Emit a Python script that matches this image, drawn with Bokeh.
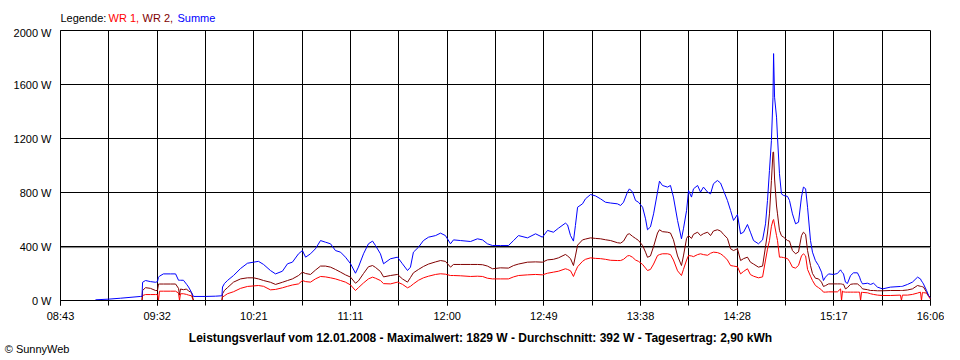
from bokeh.plotting import figure
from bokeh.layouts import column
from bokeh.models import Range1d, FixedTicker, Span
from bokeh.core.properties import value
from bokeh.embed import file_html
from bokeh.resources import INLINE

# ---------------- data (time in minutes since midnight, power in W) ----------------
zeit_min = [
    540.8, 547.4, 553.6, 563.7, 564.5, 564.8, 566.3, 568.8, 571.4, 572.4,
    572.9, 573.4, 575.4, 579.0, 581.6, 583.1, 583.6, 584.1, 585.6, 587.2,
    588.2, 589.7, 590.7, 596.8, 601.9, 605.2, 605.5, 606.5, 608.0, 611.1,
    614.7, 618.2, 621.3, 623.8, 626.4, 629.9, 632.5, 636.0, 638.6, 641.1,
    644.2, 646.2, 647.8, 650.3, 652.8, 655.4, 657.9, 660.5, 663.0, 665.6,
    668.1, 670.7, 673.2, 674.7, 677.3, 679.8, 681.9, 683.4, 685.9, 687.5,
    691.0, 694.6, 697.1, 699.7, 701.2, 702.7, 705.3, 707.8, 710.4, 714.0,
    716.5, 719.0, 721.6, 723.1, 726.7, 731.8, 735.3, 737.9, 740.4, 743.0,
    747.0, 751.1, 753.7, 756.2, 760.8, 764.9, 768.4, 771.0, 774.0, 776.6,
    780.1, 781.2, 782.7, 784.2, 785.2, 786.3, 788.8, 790.3, 792.9, 795.4,
    798.0, 800.5, 803.1, 806.6, 808.2, 809.7, 811.7, 812.7, 814.3, 815.8,
    817.3, 819.4, 820.9, 821.9, 823.4, 825.0, 827.0, 828.0, 829.5, 832.1,
    833.6, 835.1, 837.2, 839.2, 840.2, 841.8, 842.8, 844.3, 845.3, 847.4,
    848.9, 850.4, 852.5, 854.0, 855.5, 857.5, 859.1, 860.6, 862.6, 864.2,
    865.7, 867.7, 869.3, 870.8, 872.8, 874.3, 875.9, 878.4, 880.5, 882.0,
    883.0, 884.0, 885.0, 885.8, 886.1, 886.6, 887.6, 888.1, 889.1, 890.1,
    891.2, 893.2, 894.2, 895.7, 897.3, 898.8, 900.3, 901.3, 902.4, 903.4,
    904.9, 905.9, 907.4, 909.0, 910.5, 911.5, 912.5, 914.1, 916.6, 918.6,
    920.2, 920.7, 921.2, 921.7, 922.7, 923.7, 925.3, 926.8, 928.8, 929.9,
    930.4, 930.9, 931.4, 933.9, 935.5, 937.0, 939.0, 941.6, 945.6, 950.7,
    951.2, 951.7, 954.3, 956.8, 959.4, 960.9, 961.4, 961.9, 962.4, 964.0,
    965.0, 966.0,
]

summe_w = [
    5, 10, 17, 30, 30, 135, 148, 140, 135, 140,
    172, 180, 197, 197, 197, 150, 150, 150, 150, 120,
    100, 60, 30, 30, 32, 35, 100, 126, 148, 185,
    237, 276, 284, 290, 267, 222, 197, 217, 272, 284,
    346, 370, 321, 346, 383, 444, 432, 420, 370, 358,
    321, 272, 202, 247, 346, 420, 440, 407, 346, 272,
    309, 321, 272, 222, 247, 358, 395, 444, 469, 481,
    499, 481, 420, 449, 444, 437, 457, 449, 420, 407,
    407, 407, 444, 481, 464, 494, 469, 519, 506, 536,
    573, 560, 481, 440, 556, 691, 716, 753, 785, 775,
    753, 728, 722, 716, 704, 728, 803, 827, 803, 741,
    728, 691, 605, 524, 545, 642, 803, 884, 852, 840,
    852, 766, 593, 457, 531, 667, 815, 766, 827, 852,
    803, 840, 803, 790, 865, 889, 870, 815, 741, 667,
    593, 637, 494, 506, 563, 506, 444, 420, 449, 568,
    741, 963, 1185, 1506, 1829, 1506, 1358, 1210, 939, 790,
    778, 771, 741, 642, 568, 580, 766, 840, 828, 691,
    444, 358, 296, 259, 210, 148, 173, 197, 193, 200,
    227, 215, 205, 197, 136, 126, 185, 205, 205, 173,
    150, 135, 123, 128, 119, 128, 99, 86, 99, 104,
    104, 105, 119, 136, 173, 160, 145, 135, 123, 74,
    37, 20,
]

wr2_w = [
    0, 0, 0, 0, 0, 74, 95, 90, 74, 74,
    122, 122, 122, 122, 122, 90, 40, 85, 80, 85,
    70, 60, 0, 0, 0, 0, 50, 75, 95, 136,
    160, 168, 168, 160, 148, 135, 119, 135, 148, 160,
    185, 210, 200, 193, 225, 255, 255, 247, 230, 210,
    190, 173, 128, 145, 200, 250, 259, 245, 215, 175,
    185, 193, 160, 136, 170, 205, 230, 252, 270, 286,
    296, 290, 247, 267, 267, 267, 267, 265, 255, 235,
    242, 240, 259, 270, 284, 286, 284, 301, 305, 316,
    341, 330, 310, 259, 330, 410, 449, 455, 464, 460,
    457, 450, 444, 428, 425, 440, 490, 494, 475, 460,
    445, 407, 358, 320, 330, 400, 500, 524, 510, 506,
    500, 450, 330, 259, 330, 460, 481, 460, 490, 506,
    481, 495, 506, 481, 515, 524, 515, 490, 460, 383,
    370, 383, 296, 310, 321, 284, 270, 247, 255, 400,
    500, 642, 889, 1099, 1099, 900, 700, 642, 519, 480,
    469, 444, 440, 370, 346, 360, 480, 506, 490, 370,
    259, 200, 165, 160, 136, 104, 110, 123, 123, 123,
    123, 122, 120, 120, 86, 95, 120, 123, 123, 110,
    105, 95, 86, 80, 74, 74, 72, 72, 74, 74,
    74, 74, 78, 86, 111, 105, 104, 102, 100, 62,
    37, 20,
]

wr1_w = [
    0, 0, 0, 0, 0, 37, 44, 44, 44, 44,
    0, 69, 69, 69, 69, 55, 0, 50, 50, 45,
    40, 35, 0, 0, 0, 0, 25, 35, 50, 65,
    90, 104, 108, 111, 105, 79, 82, 94, 105, 115,
    123, 148, 140, 136, 160, 178, 175, 168, 160, 148,
    136, 115, 74, 95, 130, 160, 173, 165, 148, 125,
    123, 136, 120, 94, 105, 123, 150, 168, 180, 193,
    198, 195, 185, 185, 183, 178, 180, 178, 165, 160,
    160, 160, 175, 185, 190, 193, 190, 202, 210, 217,
    235, 230, 220, 178, 215, 250, 290, 305, 316, 312,
    310, 305, 298, 296, 296, 305, 330, 333, 320, 300,
    290, 267, 240, 222, 230, 270, 333, 340, 346, 346,
    340, 300, 220, 185, 230, 300, 333, 330, 325, 340,
    346, 340, 335, 350, 358, 355, 346, 330, 300, 259,
    255, 250, 197, 215, 235, 192, 180, 168, 175, 300,
    380, 444, 550, 593, 600, 560, 480, 444, 321, 321,
    318, 310, 290, 247, 240, 260, 330, 346, 330, 230,
    180, 148, 111, 95, 79, 62, 62, 64, 64, 64,
    86, 0, 70, 64, 62, 62, 62, 62, 62, 62,
    0, 62, 60, 57, 50, 45, 40, 37, 37, 40,
    0, 40, 40, 45, 55, 62, 0, 60, 58, 55,
    30, 10,
]

x_start_min = 523          # 08:43
x_end_min = 966            # 16:06
x_tick_labels = ["08:43", "09:32", "10:21", "11:11", "12:00",
                 "12:49", "13:38", "14:28", "15:17", "16:06"]
y_ticks = [0, 400, 800, 1200, 1600, 2000]
y_tick_labels = ["0 W", "400 W", "800 W", "1200 W", "1600 W", "2000 W"]
durchschnitt_w = 392

legend_parts = ["Legende:", "WR 1,", "WR 2,", "Summe"]
title_text = ("Leistungsverlauf vom 12.01.2008 - Maximalwert: 1829 W - "
              "Durchschnitt: 392 W - Tagesertrag: 2,90 kWh")
copyright_text = "© SunnyWeb"

# ---------------- styles / layout ----------------
FONT = "Liberation Sans"
C_WR1, C_WR2, C_SUM = "#FF0000", "#800000", "#0000FF"
W = 944
FRAME_L, FRAME_R = 60, 930          # page x of plot frame
BL, BR = FRAME_L, W - FRAME_R       # borders shared by all strips
TOP_H = 26            # legend strip (page y 0..26)
MAIN_H = 300          # main chart (page y 26..326, frame 30..300)
BOT_H = 30            # title strip (page y 326..356)


def text_strip(height):
    f = figure(width=W, height=height, output_backend="svg", toolbar_location=None,
               x_range=Range1d(FRAME_L, FRAME_R), y_range=Range1d(height, 0),
               min_border_left=BL, min_border_right=BR,
               min_border_top=0, min_border_bottom=0)
    f.xaxis.visible = False
    f.yaxis.visible = False
    f.grid.visible = False
    f.outline_line_color = None
    f.background_fill_color = "white"
    f.border_fill_color = "white"
    return f


def put(f, x, y, txt, color="black", bold=False, align="left", size="11px"):
    f.text(x=[x], y=[y], text=[txt], text_color=color,
           text_font=value(FONT), text_font_size=size,
           text_font_style="bold" if bold else "normal",
           text_align=align, text_baseline="middle")


# legend strip (top) -- x in page pixels
top = text_strip(TOP_H)
leg_colors = ["black", C_WR1, C_WR2, C_SUM]
leg_x = [60, 108, 142, 177]
for xx, txt, col in zip(leg_x, legend_parts, leg_colors):
    put(top, xx, 17, txt, col)

# main chart
p = figure(width=W, height=MAIN_H, output_backend="svg", toolbar_location=None,
           x_range=Range1d(x_start_min, x_end_min), y_range=Range1d(0, 2000),
           min_border_left=BL, min_border_right=BR,
           min_border_top=30 - TOP_H, min_border_bottom=MAIN_H - (300 - TOP_H))
p.background_fill_color = "white"
p.border_fill_color = "white"
p.outline_line_color = "black"
p.outline_line_width = 1

n_lab = len(x_tick_labels)
step = (x_end_min - x_start_min) / (n_lab - 1)
major = [x_start_min + i * step for i in range(n_lab)]
minor = [x_start_min + i * step / 2 for i in range(2 * (n_lab - 1) + 1)]

p.xaxis.ticker = FixedTicker(ticks=major, minor_ticks=minor)
p.xaxis.major_label_overrides = {t: s for t, s in zip(major, x_tick_labels)}
p.xaxis.major_tick_out = 5
p.xaxis.major_tick_in = 0
p.xaxis.minor_tick_out = 5
p.xaxis.minor_tick_in = 0
p.xaxis.major_label_standoff = 4
p.xaxis.axis_line_color = "black"
p.xaxis.major_tick_line_color = "black"
p.xaxis.minor_tick_line_color = "black"

p.yaxis.ticker = FixedTicker(ticks=y_ticks)
p.yaxis.major_label_overrides = {t: s for t, s in zip(y_ticks, y_tick_labels)}
p.yaxis.major_tick_out = 0
p.yaxis.major_tick_in = 0
p.yaxis.minor_tick_line_color = None
p.yaxis.major_label_standoff = 9
p.yaxis.axis_line_color = "black"

for ax in (p.xaxis, p.yaxis):
    ax.major_label_text_font = FONT
    ax.major_label_text_font_size = "11px"
    ax.major_label_text_color = "black"

p.xgrid.grid_line_color = "black"
p.xgrid.minor_grid_line_color = "black"
p.ygrid.grid_line_color = "black"

avg = Span(location=durchschnitt_w, dimension="width", line_color="#808080",
           line_width=1, level="underlay")
p.add_layout(avg)

p.line(zeit_min, wr1_w, line_color=C_WR1, line_width=1)
p.line(zeit_min, wr2_w, line_color=C_WR2, line_width=1)
p.line(zeit_min, summe_w, line_color=C_SUM, line_width=1)

# title strip (bottom); page y = 326 + local y
bot = text_strip(BOT_H)
put(bot, 480, 11, title_text, bold=True, align="center", size="12px")
# copyright sits left of the frame: shown as the strip's single y-axis label
bot.yaxis.visible = True
bot.yaxis.ticker = FixedTicker(ticks=[22])
bot.yaxis.major_label_overrides = {22: copyright_text}
bot.yaxis.axis_line_color = None
bot.yaxis.major_tick_line_color = None
bot.yaxis.minor_tick_line_color = None
bot.yaxis.major_tick_out = 0
bot.yaxis.major_tick_in = 0
bot.yaxis.minor_tick_out = 0
bot.yaxis.major_label_standoff = -9
bot.yaxis.major_label_text_font = FONT
bot.yaxis.major_label_text_font_size = "11px"
bot.yaxis.major_label_text_color = "black"

layout = column(top, p, bot, spacing=0)
open("out.html", "w").write(file_html(layout, INLINE))
